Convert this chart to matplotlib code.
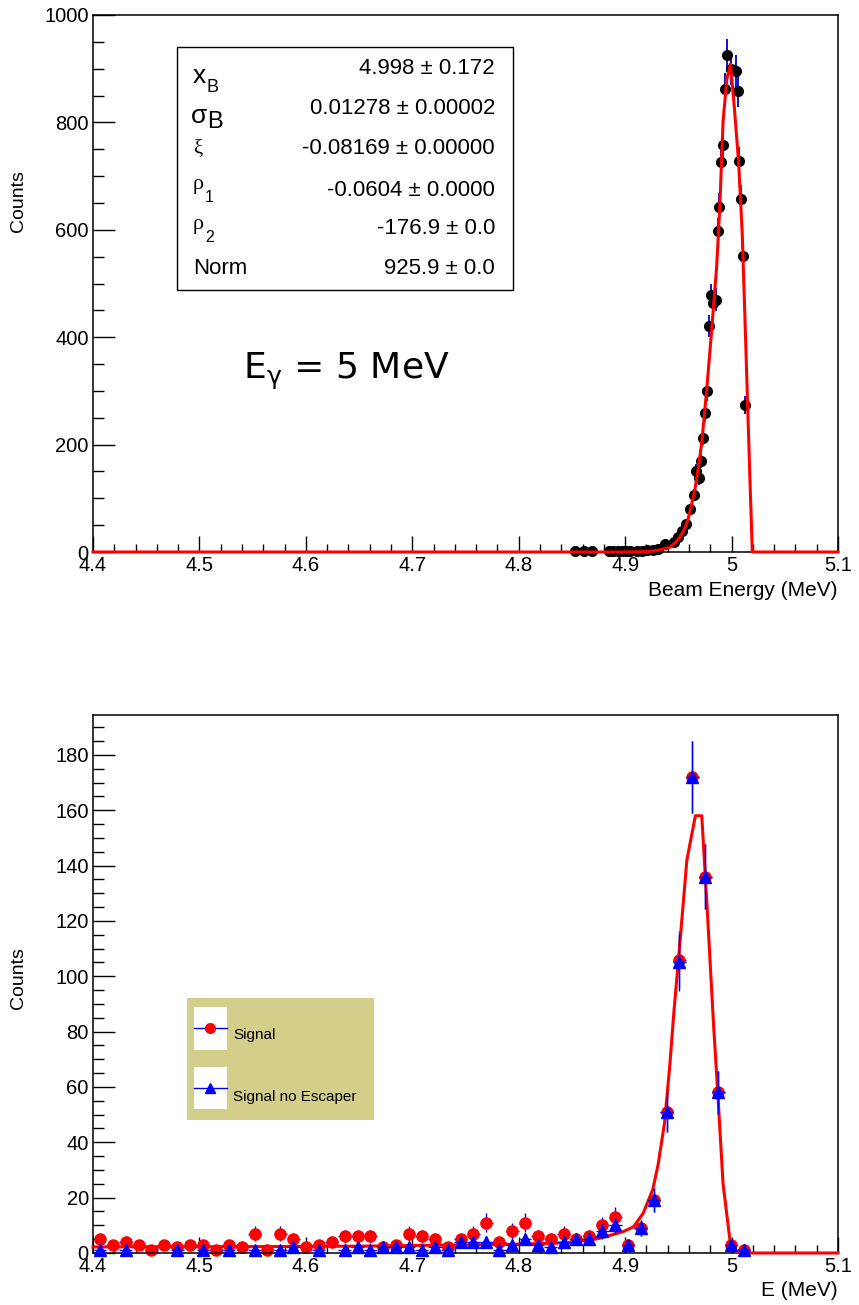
import numpy as np
import matplotlib
matplotlib.use("Agg")
import matplotlib.pyplot as plt
from matplotlib.patches import Rectangle
from matplotlib.lines import Line2D
from matplotlib.ticker import MultipleLocator, FixedLocator, FixedFormatter

plt.rcParams['font.family'] = ['Liberation Sans', 'DejaVu Sans']

W, H = 859, 1305

# --- panel 1: beam energy points (MeV, counts) ---
beam_x = [4.853, 4.861, 4.869, 4.885, 4.889, 4.893, 4.897, 4.901, 4.905, 4.911,
          4.916, 4.921, 4.926, 4.931, 4.937, 4.946, 4.950, 4.953, 4.957, 4.961,
          4.965, 4.967, 4.969, 4.971, 4.973, 4.975, 4.977, 4.979, 4.981, 4.983,
          4.985, 4.987, 4.988, 4.990, 4.992, 4.994, 4.996, 4.999, 5.004, 5.006,
          5.007, 5.009, 5.011, 5.013]
beam_counts = [1, 1, 1, 1, 1, 1, 2, 1, 1, 2,
               2, 3, 4, 6, 14, 19, 28, 40, 53, 80,
               107, 151, 137, 170, 213, 258, 299, 421, 478, 464,
               470, 598, 643, 727, 758, 862, 925, 899, 895, 858,
               728, 657, 552, 274]

# fitted curve
fit_x = [4.40, 4.90, 4.923, 4.933, 4.942, 4.947, 4.9515, 4.9555, 4.959, 4.962,
         4.9655, 4.969, 4.972, 4.9765, 4.981, 4.986, 4.989, 4.992, 4.9955, 4.999,
         5.0025, 5.0066, 5.010, 5.0125, 5.0153, 5.0175, 5.0195, 5.10]
fit_y = [0, 0, 1, 4, 9, 17, 28, 42, 60, 85,
         116, 160, 204, 299, 406, 532, 645, 802, 880, 909,
         830, 726, 594, 440, 260, 120, 0, 0]

stat_names = ["x", "σ", "ξ", "ρ", "ρ", "Norm"]
stat_subs = ["B", "B", "", "1", "2", ""]
stat_values = ["4.998 ± 0.172", "0.01278 ± 0.00002", "-0.08169 ± 0.00000",
               "-0.0604 ± 0.0000", "-176.9 ± 0.0", "925.9 ± 0.0"]

# --- panel 2: histogram bins (width ~0.0121 MeV) ---
signal = [5, 3, 4, 3, 1, 3, 2, 3, 3, 1, 3, 2, 7, 1, 7, 5, 2, 3, 4, 6,
          6, 6, 2, 3, 7, 6, 5, 2, 5, 7, 11, 4, 8, 11, 6, 5, 7, 5, 6, 10,
          13, 3, 9, 19, 51, 106, 172, 136, 58, 3, 1, 0, 0, 0, 0, 0, 0, 0]
signal_noesc = [1, 0, 1, 0, 0, 0, 1, 0, 1, 0, 1, 0, 1, 0, 1, 2, 0, 1, 0, 1,
                2, 1, 2, 2, 2, 1, 2, 1, 4, 4, 4, 1, 3, 5, 3, 2, 4, 5, 5, 8,
                10, 3, 9, 19, 51, 105, 172, 136, 58, 3, 1, 0, 0, 0, 0, 0, 0, 0]
bfit_x = [4.40, 4.55, 4.66, 4.74, 4.80, 4.848, 4.876, 4.898, 4.908, 4.917,
          4.926, 4.931, 4.937, 4.942, 4.946, 4.951, 4.958, 4.966, 4.972, 4.977,
          4.983, 4.987, 4.992, 4.999, 5.002, 5.008, 5.10]
bfit_y = [2.2, 2.3, 2.5, 2.9, 3.2, 3.7, 5.3, 7.7, 9.5, 14.4,
          23, 32, 47, 68, 88, 110, 142, 158, 158, 125,
          83, 58, 25, 3, 1, 0, 0]

bin_lo = 4.4005
bin_w = 0.0121
edges = bin_lo + bin_w * np.arange(len(signal) + 1)
centers = 0.5 * (edges[1:] + edges[:-1])
half_w = 0.5 * bin_w

fig = plt.figure(figsize=(W / 100, H / 100), dpi=100)


def fx(px):
    return px / W


def fy(py):
    return 1 - py / H


def style_axes(ax, ymax, ymajor, yminor, ylabels):
    ax.set_xlim(4.4, 5.1)
    ax.set_ylim(0, ymax)
    ax.xaxis.set_major_locator(FixedLocator([4.4, 4.5, 4.6, 4.7, 4.8, 4.9, 5.0, 5.1]))
    ax.xaxis.set_major_formatter(FixedFormatter(['4.4', '4.5', '4.6', '4.7', '4.8', '4.9', '5', '5.1']))
    ax.xaxis.set_minor_locator(MultipleLocator(0.02))
    ax.yaxis.set_major_locator(MultipleLocator(ymajor))
    ax.yaxis.set_minor_locator(MultipleLocator(yminor))
    ax.set_yticks(ylabels)
    ax.tick_params(which='both', direction='in', top=False, right=False,
                   labelsize=14.5, width=1.0, pad=3)
    ax.tick_params(axis='x', which='major', length=11.5)
    ax.tick_params(axis='x', which='minor', length=5.8)
    ax.tick_params(axis='y', which='major', length=16)
    ax.tick_params(axis='y', which='minor', length=8)
    for s in ax.spines.values():
        s.set_linewidth(1.1)


# top panel
ax1 = fig.add_axes([fx(93), fy(552), 745 / W, 537 / H])
bc = np.array(beam_counts, dtype=float)
ax1.errorbar(beam_x, bc, yerr=np.sqrt(bc), fmt='none', ecolor='#0000cc',
             elinewidth=1.3, capsize=0, zorder=2, clip_on=False)
ax1.plot(beam_x, bc, 'o', color='black', ms=7, zorder=3, clip_on=False)
ax1.plot(fit_x, fit_y, color='red', lw=2.2, zorder=4, clip_on=False)
style_axes(ax1, 1000, 200, 50, range(0, 1001, 200))

# stats box
fig.add_artist(Rectangle((fx(177), fy(290)), 336 / W, 243 / H, transform=fig.transFigure,
                         facecolor='white', edgecolor='black', lw=1.0, zorder=5))
row_y = [68, 108, 148, 190, 228, 269]
for i in range(6):
    fig.text(fx(495), fy(row_y[i]), stat_values[i], ha='right', va='center',
             fontsize=16, zorder=6)
serif = ['Liberation Serif', 'DejaVu Serif']
fig.text(fx(193), fy(76), stat_names[0], fontsize=19, va='center', zorder=6)
fig.text(fx(207), fy(88), stat_subs[0], fontsize=13, va='center', zorder=6)
fig.text(fx(191), fy(116), stat_names[1], fontsize=19, va='center', zorder=6)
fig.text(fx(207), fy(122), stat_subs[1], fontsize=17, va='center', zorder=6)
fig.text(fx(193), fy(149), stat_names[2], fontsize=15, va='center', zorder=6, family=serif)
fig.text(fx(193), fy(184), stat_names[3], fontsize=16, va='center', zorder=6, family=serif)
fig.text(fx(205), fy(197), stat_subs[3], fontsize=11.5, va='center', zorder=6)
fig.text(fx(193), fy(224), stat_names[4], fontsize=16, va='center', zorder=6, family=serif)
fig.text(fx(205), fy(237), stat_subs[4], fontsize=11.5, va='center', zorder=6)
fig.text(fx(193), fy(269), stat_names[5], fontsize=16, va='center', zorder=6)

fig.text(fx(243), fy(371), r'E$_{\mathrm{γ}}$ = 5 MeV', fontsize=26, va='center',
         family=['DejaVu Sans'])

fig.text(fx(18), fy(201), 'Counts', rotation=90, ha='center', va='center', fontsize=14)
fig.text(fx(838), fy(590), 'Beam Energy (MeV)', ha='right', va='center', fontsize=15)

# bottom panel
ax2 = fig.add_axes([fx(93), fy(1253), 745 / W, 538 / H])
sig = np.array(signal, dtype=float)
noesc = np.array(signal_noesc, dtype=float)
m1 = sig > 0
m2 = noesc > 0
ax2.errorbar(centers[m1], sig[m1], yerr=np.sqrt(sig[m1]), xerr=half_w, fmt='o',
             mfc='red', mec='red', ms=8, ecolor='blue', elinewidth=1.0,
             capsize=0, zorder=2, clip_on=False)
ax2.plot(bfit_x, bfit_y, color='red', lw=2.2, zorder=3, clip_on=False)
ax2.errorbar(centers[m2], noesc[m2], yerr=np.sqrt(noesc[m2]), xerr=half_w, fmt='^',
             mfc='blue', mec='blue', ms=8, ecolor='blue', elinewidth=1.0,
             capsize=0, zorder=4, clip_on=False)
style_axes(ax2, 194.4, 20, 5, range(0, 181, 20))

# legend
fig.add_artist(Rectangle((fx(187), fy(1120)), 187 / W, 122 / H, transform=fig.transFigure,
                         facecolor='#d3ce8a', edgecolor='none', zorder=5))
for top, bot, ly, mk, col in [(1007, 1050, 1028, 'o', 'red'), (1067, 1109, 1088, '^', 'blue')]:
    fig.add_artist(Rectangle((fx(194), fy(bot)), 33 / W, (bot - top) / H,
                             transform=fig.transFigure, facecolor='white',
                             edgecolor='none', zorder=6))
    fig.add_artist(Line2D([fx(194), fx(227)], [fy(ly), fy(ly)], color='blue', lw=1.0,
                          transform=fig.transFigure, zorder=7))
    fig.add_artist(Line2D([fx(210)], [fy(ly)], marker=mk, color=col, ms=7,
                          transform=fig.transFigure, zorder=8))
fig.text(fx(233), fy(1035), 'Signal', fontsize=11, va='center', zorder=8)
fig.text(fx(233), fy(1097), 'Signal no Escaper', fontsize=11, va='center', zorder=8)

fig.text(fx(18), fy(978), 'Counts', rotation=90, ha='center', va='center', fontsize=14)
fig.text(fx(838), fy(1291), 'E (MeV)', ha='right', va='center', fontsize=15)

fig.savefig('out.png', dpi=100)
